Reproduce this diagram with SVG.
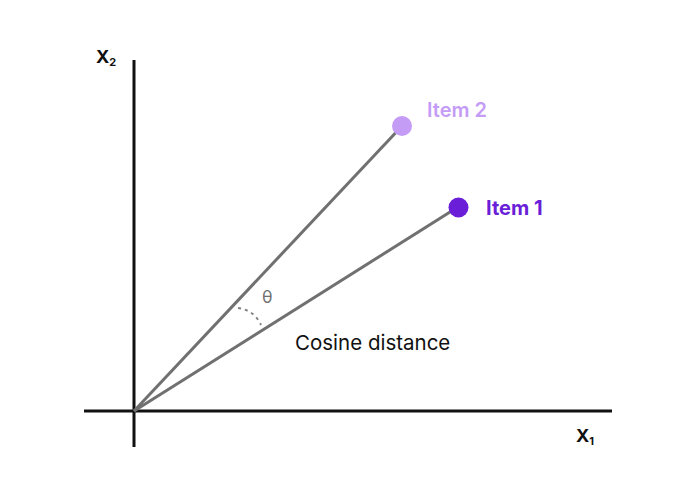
<svg xmlns="http://www.w3.org/2000/svg" width="692" height="502" viewBox="0 0 692 502">
<style>
.axis{stroke:#111;stroke-width:3;fill:none}
.vec{stroke:#707070;stroke-width:3;fill:none}
.lbl{font-family:Inter,"Liberation Sans",sans-serif}
.ax{font-family:Inter,"Liberation Sans",sans-serif;font-weight:700;fill:#111}
</style>
<rect width="692" height="502" fill="#fff"/>
<g id="axes">
<line class="axis" x1="134" y1="60" x2="134" y2="447"/>
<line class="axis" x1="84" y1="411" x2="612" y2="411"/>
<text class="ax" x="96" y="63" font-size="18">X<tspan font-size="11" dy="3">2</tspan></text>
<text class="ax" x="576" y="442" font-size="18">X<tspan font-size="11" dy="3">1</tspan></text>
</g>
<g id="connectors">
<line class="vec" x1="134" y1="411" x2="402" y2="126"/>
<line class="vec" x1="134" y1="411" x2="458" y2="207"/>
<path d="M238 308 Q254 310 261 325" fill="none" stroke="#808080" stroke-width="2" stroke-dasharray="3 4"/>
</g>
<g id="item2">
<circle cx="402" cy="126" r="10" fill="#c49cf6"/>
<text class="lbl" x="427" y="117" font-size="20" font-weight="600" fill="#c49cf6">Item 2</text>
</g>
<g id="item1">
<circle cx="458.5" cy="207.5" r="10" fill="#6a1ed8"/>
<text class="lbl" x="486" y="215" font-size="20" font-weight="700" fill="#6a1ed8">Item 1</text>
</g>
<g id="labels">
<text class="lbl" x="262" y="303" font-size="17" fill="#707070">θ</text>
<text class="lbl" x="295" y="350" font-size="20.5" fill="#111">Cosine distance</text>
</g>
</svg>
